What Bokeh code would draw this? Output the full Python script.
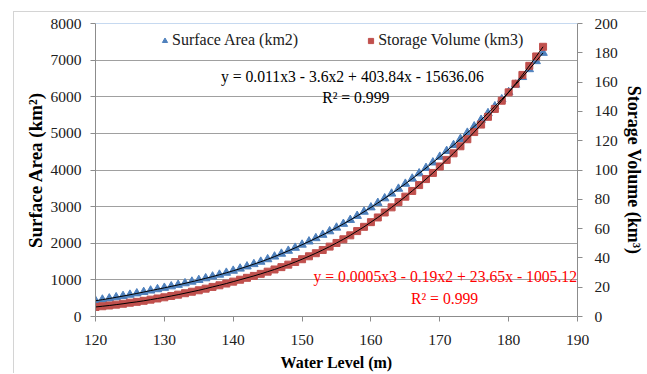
from bokeh.plotting import figure
from bokeh.models import Range1d, LinearAxis, Legend, LegendItem, Label, Span, FixedTicker
from bokeh.embed import file_html
from bokeh.resources import INLINE

# ---- data ----
water_level = [120, 121, 122, 123, 124, 125, 126, 127, 128, 129,
               130, 131, 132, 133, 134, 135, 136, 137, 138, 139,
               140, 141, 142, 143, 144, 145, 146, 147, 148, 149,
               150, 151, 152, 153, 154, 155, 156, 157, 158, 159,
               160, 161, 162, 163, 164, 165, 166, 167, 168, 169,
               170, 171, 172, 173, 174, 175, 176, 177, 178, 179,
               180, 181, 182, 183, 184, 185]
surface_area = [430, 460, 491, 524, 558, 593, 630, 668, 707, 744,
                782, 822, 863, 906, 950, 995, 1042, 1090, 1140, 1193,
                1248, 1306, 1366, 1429, 1494, 1562, 1636, 1713, 1793, 1875,
                1960, 2047, 2137, 2229, 2325, 2425, 2528, 2635, 2746, 2860,
                2978, 3100, 3225, 3354, 3487, 3623, 3763, 3907, 4054, 4205,
                4360, 4518, 4680, 4846, 5016, 5190, 5368, 5550, 5737, 5929,
                6126, 6329, 6537, 6751, 6971, 7197]
storage_volume = [6.5, 7.0, 7.5, 8.1, 8.7, 9.4, 10.0, 10.7, 11.5, 12.3,
                  13.1, 14.0, 14.9, 15.9, 16.9, 17.9, 19.0, 20.2, 21.3, 22.5,
                  23.8, 25.1, 26.4, 27.7, 29.1, 30.6, 32.1, 33.7, 35.4, 37.2,
                  39.1, 41.1, 43.2, 45.4, 47.7, 50.2, 52.7, 55.4, 58.3, 61.2,
                  64.4, 67.6, 71.0, 74.5, 78.1, 81.8, 85.7, 89.7, 93.8, 98.0,
                  102.4, 106.9, 111.4, 116.2, 121.0, 125.9, 131.0, 136.3, 141.7, 147.3,
                  153.0, 158.9, 164.9, 171.1, 177.5, 184.1]
x_ticks = [120, 130, 140, 150, 160, 170, 180, 190]
left_ticks = [0, 1000, 2000, 3000, 4000, 5000, 6000, 7000, 8000]
right_ticks = [0, 20, 40, 60, 80, 100, 120, 140, 160, 180, 200]
series_names = ["Surface Area (km2)", "Storage Volume (km3)"]
eq_area = "y = 0.011x3 - 3.6x2 + 403.84x - 15636.06"
r2_area = "R² = 0.999"
eq_vol = "y = 0.0005x3 - 0.19x2 + 23.65x - 1005.12"
r2_vol = "R² = 0.999"

BLUE = "#4F81BD"
RED = "#C0504D"
GRAY = "#8c8c8c"
FONT = "Liberation Serif"

p = figure(frame_width=482, frame_height=293, x_range=Range1d(120, 190), y_range=Range1d(0, 8000),
           output_backend="svg", toolbar_location=None,
           min_border_left=81, min_border_right=68, min_border_top=11, min_border_bottom=57)
p.styles = {"border-left": "1px solid #d4d4d4", "border-top": "1px solid #d4d4d4",
            "margin-left": "13px", "margin-top": "11px"}
p.extra_y_ranges = {"vol": Range1d(0, 200)}
p.outline_line_color = None
p.background_fill_color = "white"

def style_axis(ax):
    ax.axis_line_color = GRAY
    ax.major_tick_line_color = GRAY
    ax.major_tick_in = 0
    ax.major_tick_out = 5
    ax.minor_tick_line_color = None
    ax.major_label_text_font = FONT
    ax.major_label_text_font_size = "15.5px"
    ax.major_label_text_color = "#202020"
    ax.axis_label_text_font = FONT
    ax.axis_label_text_font_style = "bold"
    ax.axis_label_text_color = "black"

p.xaxis.ticker = FixedTicker(ticks=x_ticks)
p.xaxis.axis_label = "Water Level (m)"
style_axis(p.xaxis[0])
p.xaxis.axis_label_text_font_size = "16px"
p.xaxis.major_label_standoff = 13
p.xaxis.axis_label_standoff = 6

p.yaxis.ticker = FixedTicker(ticks=left_ticks)
p.yaxis.axis_label = "Surface Area (km²)"
style_axis(p.yaxis[0])
p.yaxis.axis_label_text_font_size = "19px"
p.yaxis.major_label_standoff = 9
p.yaxis.axis_label_standoff = 2

ax_r = LinearAxis(y_range_name="vol", ticker=FixedTicker(ticks=right_ticks),
                  axis_label="Storage Volume (km³)")
style_axis(ax_r)
ax_r.axis_label_text_font_size = "18px"
ax_r.major_label_standoff = 12
ax_r.axis_label_standoff = 3
p.add_layout(ax_r, "right")

p.xgrid.visible = False
p.ygrid.ticker = FixedTicker(ticks=left_ticks)
p.ygrid.grid_line_color = "#a0a0a0"
p.add_layout(Span(location=8000, dimension="width", line_color="#8db4e2", line_width=1))

r_sa = p.scatter(water_level, surface_area, marker="triangle", size=8.5,
                 fill_color=BLUE, line_color=BLUE)
r_sv = p.scatter(water_level, storage_volume, marker="square", size=7,
                 fill_color=RED, line_color=RED, y_range_name="vol")
p.line(water_level, surface_area, line_color="black", line_width=1)
p.line(water_level, storage_volume, line_color="black", line_width=1, y_range_name="vol")

legend = Legend(items=[LegendItem(label=series_names[0], renderers=[r_sa]),
                       LegendItem(label=series_names[1], renderers=[r_sv])],
                orientation="horizontal", location=(63, 267),
                border_line_color=None, background_fill_alpha=0,
                label_text_font=FONT, label_text_font_size="16px", label_text_color="#202020",
                glyph_width=13, glyph_height=13, label_standoff=1, spacing=66,
                padding=0, margin=0)
p.add_layout(legend)

for txt, x, y, col in [(eq_area, 157.3, 6552, "black"), (r2_area, 157.8, 5979, "black"),
                       (eq_vol, 170.8, 1092, "#ff0000"), (r2_vol, 170.7, 491, "#ff0000")]:
    p.add_layout(Label(x=x, y=y, text=txt, text_align="center", text_baseline="middle",
                       text_font=FONT, text_font_size="15.7px", text_color=col))

open("out.html", "w").write(file_html(p, INLINE))
